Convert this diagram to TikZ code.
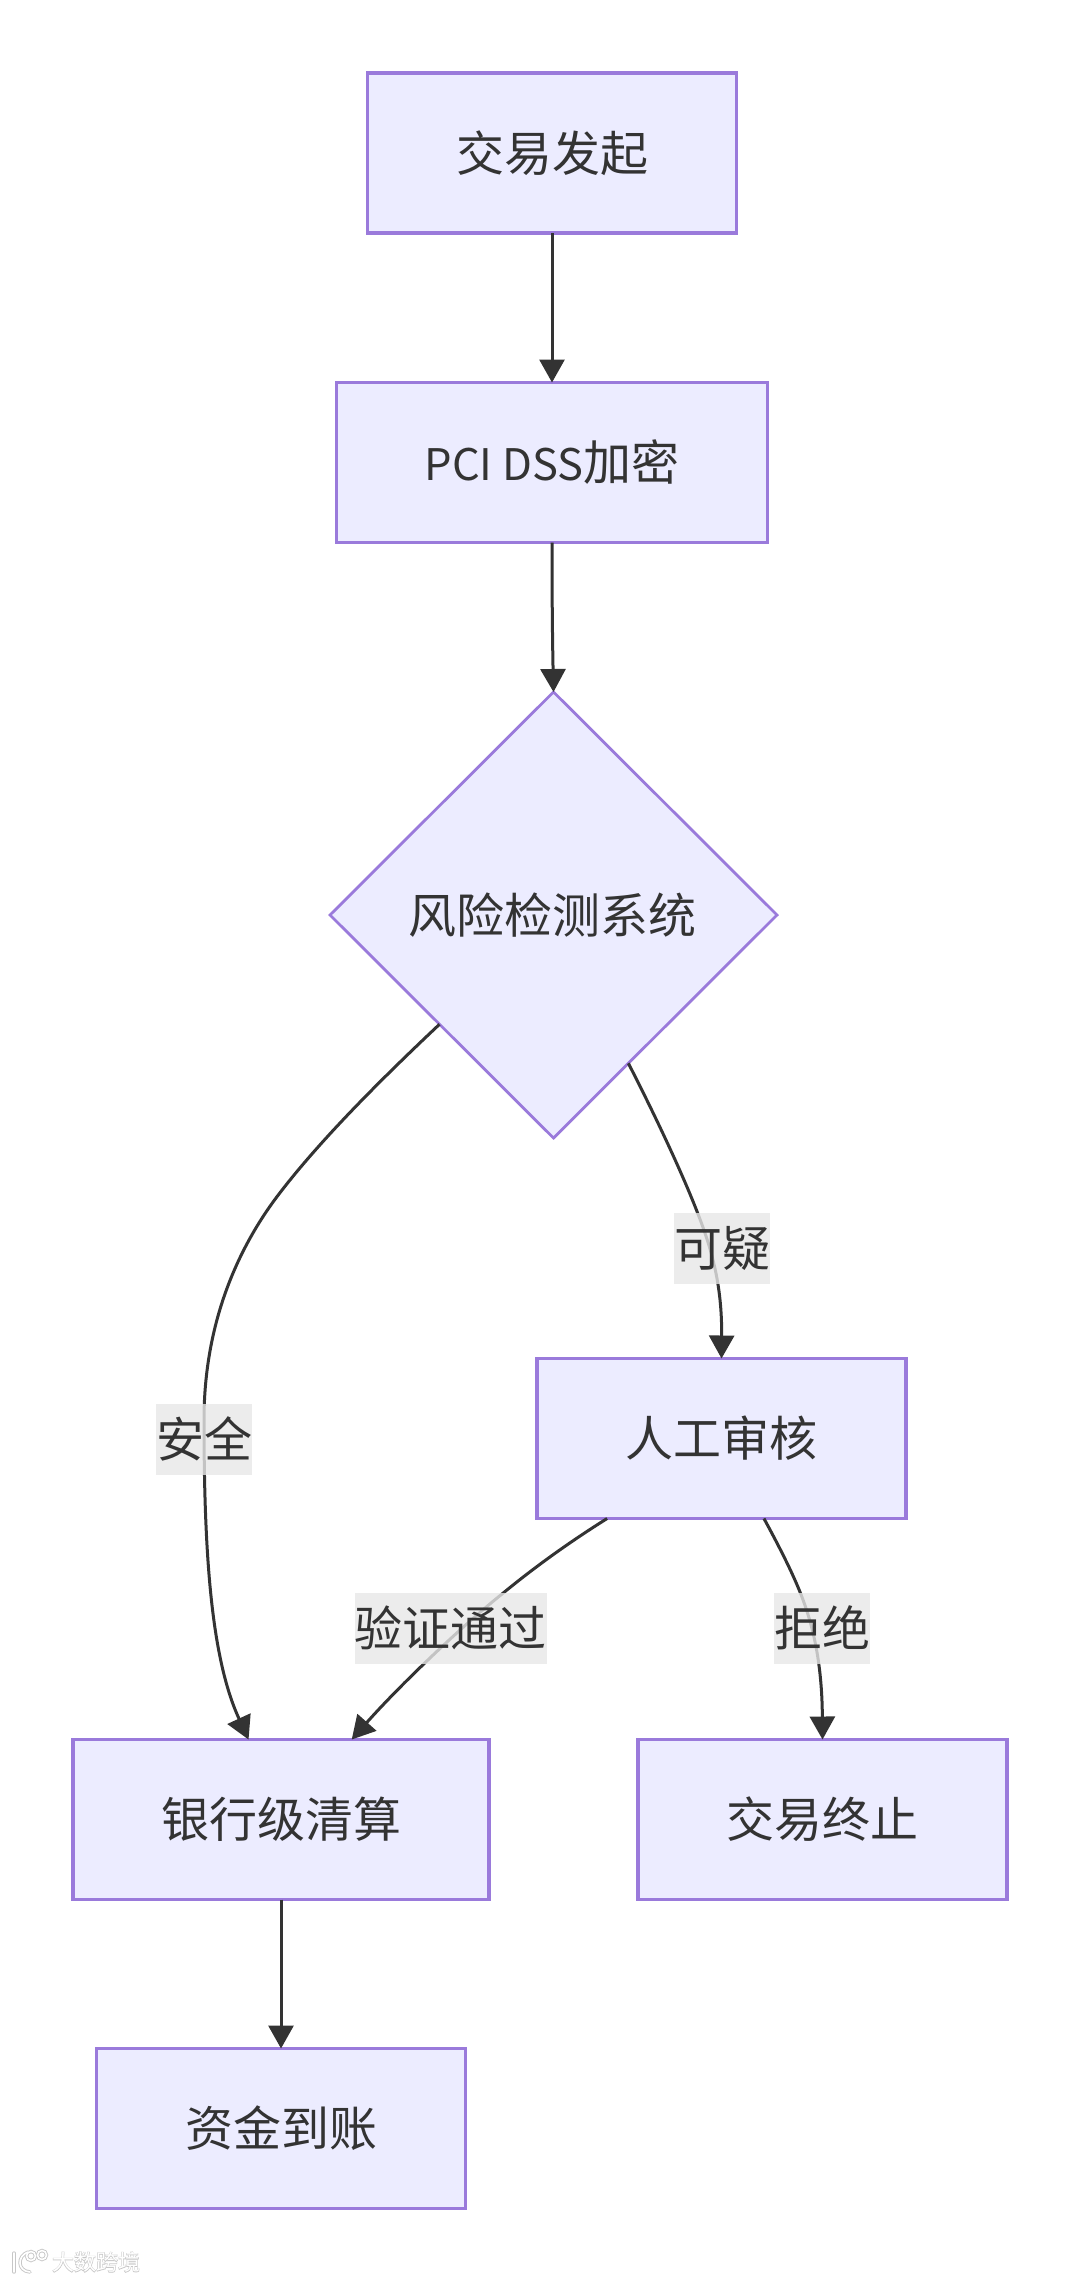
\documentclass[tikz,border=0pt]{standalone}
\usepackage{fontspec}
\setmainfont{Noto Sans CJK SC}
\newfontfamily\wmfont[FakeBold=4]{Noto Sans CJK SC}
\usetikzlibrary{shapes.geometric,arrows.meta,calc}
\definecolor{nodefill}{HTML}{ECECFF}
\definecolor{nodeline}{HTML}{9A7ADB}
\definecolor{ink}{HTML}{333333}
\definecolor{labelbg}{HTML}{E8E8E8}
\tikzset{
  txt/.style={text=ink,font=\fontsize{48}{57}\selectfont,inner sep=0pt,outer sep=0pt,
    text height=41.8pt,text depth=5.7pt,align=center},
  boxnode/.style={txt,rectangle,draw=nodeline,fill=nodefill,line width=3.2pt,
    minimum height=160pt},
  decision/.style={txt,diamond,aspect=1,draw=nodeline,fill=nodefill,line width=2.8pt,
    minimum width=447pt,minimum height=446pt},
  link/.style={draw=ink,line width=3pt,-{Triangle[length=23pt,width=25pt,fill=ink]}},
  edgelabel/.style={txt,rectangle,fill=labelbg,fill opacity=0.8,text opacity=1,
    minimum height=71pt},
  wmgray/.style={draw=black!22,line width=3.4pt},
  wmwhite/.style={draw=white,line width=1.6pt},
}
\begin{document}
\begin{tikzpicture}[x=1pt,y=-1pt]
\useasboundingbox (0,0) rectangle (1080,2282);
\fill[white] (0,0) rectangle (1080,2282);

\node[boxnode,minimum width=369pt] (A) at (552,153) {交易发起};
\node[boxnode,minimum width=431pt] (B) at (552,462.5) {{\fontsize{43.5}{57}\selectfont PCI DSS}加密};
\node[decision] (D) at (553.5,915) {\hspace*{-3pt}风险检测系统};
\node[boxnode,minimum width=369pt] (H) at (721.5,1438.5) {人工审核};
\node[boxnode,minimum width=416pt] (E) at (281,1819.5) {银行级清算};
\node[boxnode,minimum width=369pt] (T) at (822.5,1819.5) {交易终止};
\node[boxnode,minimum width=369pt] (F) at (281,2128.5) {资金到账};

\draw[link] (A.south) -- (B.north);
\draw[link] (B.south) .. controls (552,600) and (552.5,640) .. (D.north);
\draw[link] ($(D.west)!0.49!(D.south)$)
  .. controls (375,1085) and (318,1143) .. (279,1194)
  .. controls (240,1245) and (204,1320) .. (204,1420)
  .. controls (204,1560) and (212,1660) .. ($(E.north west)!0.422!(E.north east)$);
\draw[link] ($(D.south)!0.335!(D.east)$)
  .. controls (660,1125) and (685,1180) .. (698,1214)
  .. controls (714,1255) and (722,1290) .. (H.north);
\draw[link] ($(H.south west)!0.19!(H.south east)$)
  .. controls (560,1548) and (525,1575) .. (502,1594)
  .. controls (462,1626) and (400,1685) .. ($(E.north west)!0.67!(E.north east)$);
\draw[link] ($(H.south west)!0.615!(H.south east)$)
  .. controls (780,1548) and (792,1572) .. (800,1592)
  .. controls (812,1622) and (822,1660) .. (T.north);
\draw[link] (E.south) -- (F.north);

\node[edgelabel,minimum width=95pt] (L1) at (204,1439) {安全};
\node[edgelabel,minimum width=95pt] (L2) at (722,1248) {可疑};
\node[edgelabel,minimum width=190pt] (L3) at (450.5,1628.5) {验证通过};
\node[edgelabel,minimum width=95pt] (L4) at (822,1628.5) {拒绝};

% watermark
\foreach \s in {wmgray,wmwhite}{
  \draw[\s,line cap=round] (14,2253) -- (14,2272);
  \draw[\s,line cap=round] (28,2252) .. controls (17,2256) and (17,2271) .. (30,2272);
  \draw[\s] (31,2256) circle (4.5pt);
  \draw[\s] (42,2255) circle (4.5pt);
}
\node[inner sep=0pt,text=black!22,font=\wmfont\fontsize{22}{26}\selectfont] (W1) at (96,2262) {大数跨境};
\node[inner sep=0pt,text=white,font=\fontsize{22}{26}\selectfont] (W2) at (96,2262) {大数跨境};
\end{tikzpicture}
\end{document}
